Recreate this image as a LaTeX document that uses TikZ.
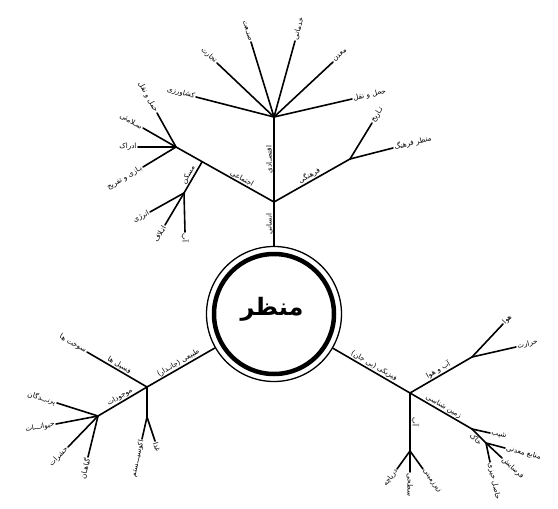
\documentclass[tikz,border=0pt]{standalone}
\usepackage{fontspec}
\newfontfamily\fa[Script=Arabic]{DejaVu Sans}
\TeXXeTstate=1
% leaf: name, position, from, anchor, text
\newcommand\leafline[5]{\coordinate (#1) at (#2); \draw (#3) -- (#1) node[lbl,pos=1,sloped,anchor=#4]{#5};}
\begin{document}
\begin{tikzpicture}[x=1pt,y=-1pt,line width=1.6pt,line cap=round,
  lbl/.style={font=\fa\fontsize{7.2}{8}\selectfont,inner sep=1.5pt,line width=0pt},
  ttl/.style={font=\fa\bfseries\fontsize{24}{28}\selectfont}]
\useasboundingbox (0,0) rectangle (558,509);
\node[circle,draw,line width=1.3pt,minimum size=135pt,inner sep=0pt] (c) at (274,314) {};
\draw[line width=4.5pt] (c.center) circle[radius=60pt];
\node[ttl] (t) at (272,309) {\beginR منظر\endR};
% top tree
\coordinate (h1) at (274,202);
\coordinate (h2) at (274,117);
\coordinate (h3) at (176,147);
\coordinate (h3a) at (202,162);
\coordinate (h4) at (184,193);
\coordinate (h5) at (350,159);
\draw (c) -- (h1) node[lbl,midway,rotate=90,anchor=south]{\beginR انسانی\endR};
\draw (h1) -- (h2) node[lbl,midway,rotate=90,anchor=south]{\beginR اقتصـادی\endR};
\draw (h1) -- (h3) node[lbl,pos=0.35,sloped,above]{\beginR اجتماعی\endR};
\draw (h3a) -- (h4) node[lbl,midway,sloped,above]{\beginR مسکن\endR};
\draw (h1) -- (h5) node[lbl,midway,sloped,above]{\beginR فرهنگی\endR};
\leafline{e1}{196,97}{h2}{east}{\beginR کشاورزی\endR}
\leafline{e2}{217,63}{h2}{east}{\beginR تجارت\endR}
\leafline{e3}{251,42}{h2}{east}{\beginR صنـعت\endR}
\leafline{e4}{295,41}{h2}{west}{\beginR خدماتی\endR}
\leafline{e5}{333,62}{h2}{west}{\beginR معدن\endR}
\leafline{e6}{352,99}{h2}{west}{\beginR حمل و نقل\endR}
\leafline{s1}{157,113}{h3}{east}{\beginR حمل و نقل\endR}
\leafline{s2}{143,128}{h3}{east}{\beginR سـلامتی\endR}
\leafline{s3}{138,147}{h3}{east}{\beginR ادراک\endR}
\leafline{s4}{143,167}{h3}{east}{\beginR بـازی و تفریح\endR}
\leafline{m1}{150,212}{h4}{east}{\beginR انرژی\endR}
\leafline{m2}{165,225}{h4}{east}{\beginR اتـلاف\endR}
\leafline{m3}{185,232}{h4}{west}{\beginR آب\endR}
\leafline{f1}{372,123}{h5}{west}{\beginR تـاریخ\endR}
\leafline{f2}{393,148}{h5}{west}{\beginR منظر فرهنگ\endR}
% left tree
\coordinate (A) at (147,387);
\coordinate (A1) at (87,352);
\coordinate (A2) at (98,416);
\coordinate (A3) at (147,417);
\draw (c) -- (A) node[lbl,midway,sloped,above]{\beginR طبیعی (جانـدار)\endR};
\draw (A) -- (A1) node[lbl,midway,sloped,above]{\beginR فسیل ها\endR} node[lbl,pos=1,sloped,anchor=east]{\beginR سوخت ها\endR};
\draw (A) -- (A2) node[lbl,midway,sloped,above]{\beginR موجودات\endR};
\draw (A) -- (A3);
\leafline{a1}{57,403}{A2}{east}{\beginR پرنـــدگان\endR}
\leafline{a2}{56,424}{A2}{east}{\beginR حیوانـــات\endR}
\leafline{a3}{68,447}{A2}{east}{\beginR حشرات\endR}
\leafline{a4}{88,457}{A2}{east}{\beginR گیاهـان\endR}
\leafline{a5}{142,439}{A3}{east}{\beginR اکوسیـــستم\endR}
\leafline{a6}{155,441}{A3}{west}{\beginR غذا\endR}
% right tree
\coordinate (B) at (410,393);
\coordinate (B2) at (472,357);
\coordinate (B3) at (472,429);
\coordinate (B4) at (486,443);
\coordinate (B5) at (410,451);
\draw (c) -- (B) node[lbl,midway,sloped,above]{\beginR فیزیکی (بی جان)\endR};
\draw (B) -- (B2) node[lbl,midway,sloped,above]{\beginR آب و هوا\endR};
\draw (B) -- (B3) node[lbl,midway,sloped,above]{\beginR زمین شناسی\endR};
\draw (B3) -- (B4) node[lbl,midway,sloped,below]{\beginR خاک\endR};
\draw (B) -- (B5) node[lbl,midway,rotate=-90,anchor=south]{\beginR آب\endR};
\leafline{b1}{503,324}{B2}{west}{\beginR هوا\endR}
\leafline{b2}{516,347}{B2}{west}{\beginR حرارت\endR}
\leafline{b3}{490,433}{B3}{west}{\beginR شیب\endR}
\leafline{b4}{505,448}{B4}{west}{\beginR منابع معدنی\endR}
\leafline{b5}{502,458}{B4}{west}{\beginR فرسایش\endR}
\leafline{b6}{490,462}{B4}{west}{\beginR حاصل خیزی\endR}
\leafline{b7}{397,469}{B5}{east}{\beginR دریاچه\endR}
\coordinate (b8) at (410,472);
\draw (B5) -- (b8) node[lbl,pos=1,rotate=-90,anchor=west]{\beginR سطحی\endR};
\leafline{b9}{423,469}{B5}{west}{\beginR زیرزمینی\endR}
\end{tikzpicture}
\end{document}
